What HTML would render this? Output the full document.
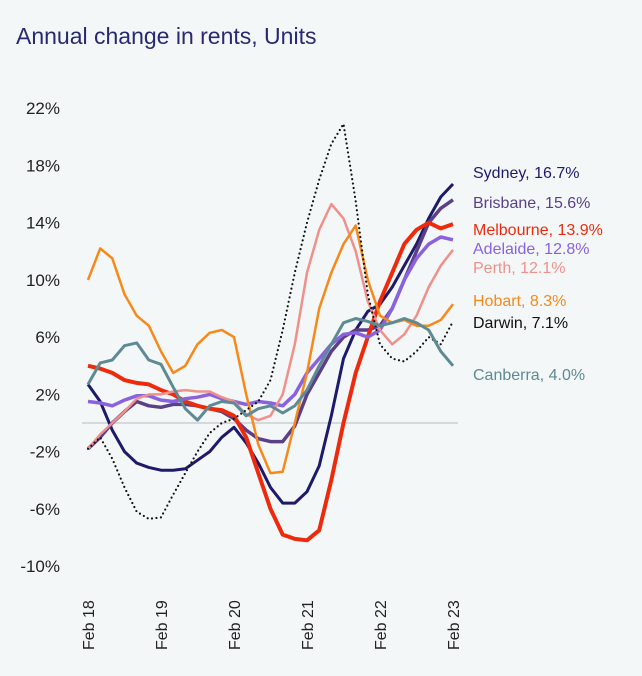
<!DOCTYPE html>
<html><head><meta charset="utf-8"><style>
body{margin:0;background:#f3f7f8;}
svg{display:block;font-family:"Liberation Sans",sans-serif;}
</style></head><body>
<svg id="c" width="642" height="676">
<rect width="642" height="676" fill="#f3f7f8"/>
<text x="16" y="44" font-size="23" fill="#2a2870">Annual change in rents, Units</text>
<g id="g"></g>
</svg>
<script>
const xLabels=["Feb 18","Feb 19","Feb 20","Feb 21","Feb 22","Feb 23"];
const yTicks=[22,18,14,10,6,2,-2,-6,-10];
const cities=["Sydney","Brisbane","Melbourne","Adelaide","Perth","Hobart","Darwin","Canberra"];
const lastVals=["16.7","15.6","13.9","12.8","12.1","8.3","7.1","4.0"];
const sydney=[2.7,1.5,-0.5,-2,-2.8,-3.1,-3.3,-3.3,-3.2,-2.6,-2,-1,-0.3,-1.4,-2.8,-4.5,-5.6,-5.6,-4.8,-3,0.5,4.5,6.5,7.8,8.3,9.5,11,12.5,14.3,15.8,16.7];
const brisbane=[-1.8,-1,0,0.8,1.5,1.2,1.1,1.3,1.3,1.2,1.0,0.8,0.3,-0.5,-1.1,-1.3,-1.3,-0.2,2,3.5,5,6,6.5,6.5,6.8,8,10,12,14,15,15.6];
const melbourne=[4.0,3.8,3.5,3.0,2.8,2.7,2.3,2.0,1.5,1.2,1.0,0.9,0.5,-1,-3.5,-6,-7.8,-8.1,-8.2,-7.5,-4,0,3.5,6,8.5,10.5,12.5,13.5,14,13.6,13.9];
const adelaide=[1.5,1.4,1.2,1.6,1.9,1.9,1.6,1.5,1.7,1.8,2.0,1.7,1.5,1.3,1.5,1.4,1.2,2.0,3.5,4.5,5.5,6.2,6.3,6,6.5,8,10,11.5,12.5,13,12.8];
const perth=[-1.8,-0.8,0,0.8,1.7,2,2.0,2.2,2.3,2.2,2.2,1.8,1.5,0.6,0.2,0.5,2,5.5,10.5,13.5,15.3,14.3,12,8.5,6.5,5.5,6.2,7.5,9.5,11,12.1];
const hobart=[10,12.2,11.5,9,7.5,6.8,5,3.5,4,5.5,6.3,6.5,6.0,2,-1.5,-3.5,-3.4,0,3.5,8,10.5,12.5,13.8,10,7.5,7,7.2,6.8,6.8,7.2,8.3];
const darwin=[-1.8,-1,-2.5,-4.5,-6.2,-6.7,-6.6,-5,-3.5,-2,-0.7,0,0.3,0.9,1.5,3,6.5,10.5,14,17,19.5,20.9,15.5,9,5.5,4.5,4.3,5,6,5.5,7.1];
const canberra=[2.7,4.2,4.4,5.4,5.6,4.4,4.1,2.5,1.0,0.2,1.2,1.5,1.4,0.5,1.0,1.2,0.7,1.2,2.3,4,5.5,7,7.3,7.1,6.8,7,7.3,7,6.5,5,4.0];
const series=[sydney,brisbane,melbourne,adelaide,perth,hobart,darwin,canberra];
const colors=["#1e1a6b","#5b3f87","#ee2a0c","#8a62e0","#f0908a","#f7891a","#111111","#5e8a94"];
const widths=[3,3.5,4,3.5,2.5,2.5,2.2,3];
const labelY=[172,202,229,248,267,300,322,374];
const NS="http://www.w3.org/2000/svg",g=document.getElementById('g');
const x0=88,x1=453;
function xs(i){return x0+i*(x1-x0)/(sydney.length-1);}
function ys(v){return 423-v*14.31;}
function mk(t,a){const e=document.createElementNS(NS,t);for(const k in a)e.setAttribute(k,a[k]);g.appendChild(e);return e;}
yTicks.forEach(v=>{const t=mk('text',{x:60,y:ys(v)+6,'text-anchor':'end','font-size':17,fill:'#222'});t.textContent=v+'%';

});
const zl=mk('line',{x1:82,x2:458,y1:ys(0),y2:ys(0),stroke:'#d6d8da','stroke-width':2});


xLabels.forEach((l,i)=>{const x=x0+i*(x1-x0)/5;const t=mk('text',{x:0,y:0,transform:`translate(${x+6},650) rotate(-90)`,'font-size':16,fill:'#222'});t.textContent=l;

});
series.forEach((s,k)=>{const d=s.map((v,i)=>(i?'L':'M')+xs(i).toFixed(1)+','+ys(v).toFixed(1)).join('');
const p=mk('path',{d:d,fill:'none',stroke:colors[k],'stroke-width':widths[k],'stroke-linejoin':'round','stroke-linecap':k==6?'round':'butt'});
if(k==6)p.setAttribute('stroke-dasharray','0 4.5');


const t=mk('text',{x:473,y:labelY[k]+6,'font-size':16,fill:colors[k]});t.textContent=cities[k]+', '+lastVals[k]+'%';

});
</script>
</body></html>
